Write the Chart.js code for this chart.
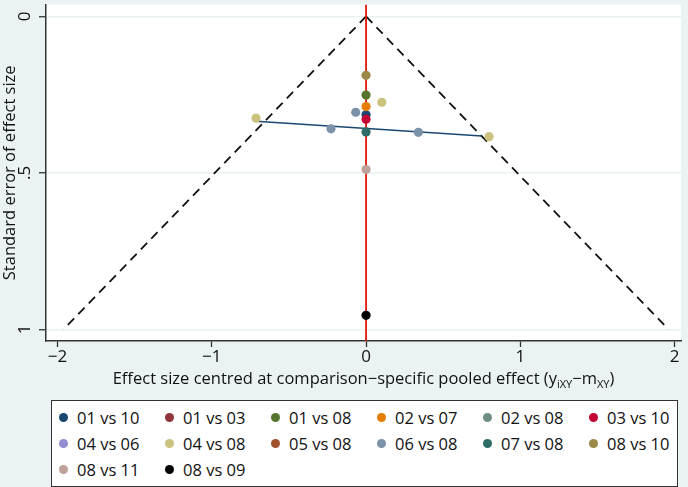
<!DOCTYPE html>
<html>
<head>
<meta charset="utf-8">
<script src="https://cdn.jsdelivr.net/npm/chart.js@4.4.1/dist/chart.umd.min.js"></script>
<style>
  body { margin: 0; background: #eaf2f3; font-family: "Open Sans", sans-serif; }
  #wrap { position: relative; width: 688px; height: 487px; background: #eaf2f3; overflow: hidden; }
  #chart { position: absolute; left: 0; top: 0; }
  #legend { position: absolute; left: 51px; top: 400px; width: 625px; height: 85px; background: #fff; border: 1px solid #333; }
  .item { position: absolute; height: 20px; display: flex; align-items: center; font-size: 16.5px; color: #111; white-space: nowrap; }
  .dot { width: 9px; height: 9px; border-radius: 50%; margin-right: 9.5px; }
</style>
</head>
<body>
<div id="wrap">
  <canvas id="chart" width="688" height="392"></canvas>
  <div id="legend"></div>
</div>
<script>
const comparisons = ['01 vs 10', '01 vs 03', '01 vs 08', '02 vs 07', '02 vs 08', '03 vs 10', '04 vs 06',
  '04 vs 08', '05 vs 08', '06 vs 08', '07 vs 08', '08 vs 10', '08 vs 11', '08 vs 09'];
const colors = ['#1a476f', '#90353b', '#55752f', '#e37e00', '#6e8e84', '#c10534', '#938dd2',
  '#cac27e', '#a0522d', '#7b92a8', '#2d6d66', '#9c8847', '#bfa19c', '#000000'];

// centred effect size and its standard error, per comparison (empty = not visible in the plot)
const effects = [[0], [], [0], [0], [], [0], [], [-0.713, 0.102, 0.797], [], [-0.227, -0.067, 0.339], [0], [0], [0], [0]];
const stdErrors = [[0.314], [], [0.251], [0.288], [], [0.328], [], [0.325, 0.274, 0.384], [], [0.359, 0.306, 0.370], [0.369], [0.188], [0.489], [0.955]];

// fitted line and pseudo 95% limits
const fitX = [-0.713, 0.75];
const fitSE = [0.335, 0.382];
const funnelSE = [0, 1];
const funnelLeft = [0, -1.96];
const funnelRight = [0, 1.96];

const xTicks = [-2, -1, 0, 1, 2];
const yTicks = [0, 0.5, 1];
const yTickLabels = ['0', '.5', '1'];
const xMin = -2.074, xMax = 2.041, yMin = -0.038, yMax = 1.037;

const pts = (xs, ys) => xs.map((x, i) => ({ x: x, y: ys[i] }));

const datasets = [];
comparisons.forEach((name, i) => {
  datasets.push({
    label: name,
    data: pts(effects[i], stdErrors[i]),
    backgroundColor: colors[i],
    borderWidth: 0,
    pointRadius: 4.6,
    showLine: false
  });
});
datasets.reverse(); // first comparison drawn last
const lineStyle = { pointRadius: 0, showLine: true, fill: false };
datasets.push({ label: 'fit', data: pts(fitX, fitSE), borderColor: '#1a476f', borderWidth: 1.6, ...lineStyle });
datasets.push({ label: 'zero', data: pts([0, 0], [yMin, yMax]), borderColor: '#e3170a', borderWidth: 1.8, ...lineStyle });
datasets.push({ label: 'left', data: pts(funnelLeft, funnelSE), borderColor: '#111', borderWidth: 1.8, borderDash: [9, 6], ...lineStyle });
datasets.push({ label: 'right', data: pts(funnelRight, funnelSE), borderColor: '#111', borderWidth: 1.8, borderDash: [9, 6], ...lineStyle });

const textPlugin = {
  id: 'texts',
  beforeDraw(chart) {
    const { ctx, chartArea: a } = chart;
    ctx.save();
    ctx.fillStyle = '#fff';
    ctx.fillRect(a.left, a.top, a.right - a.left, a.bottom - a.top);
    ctx.restore();
  },
  afterDraw(chart) {
    const { ctx, chartArea: a, scales } = chart;
    ctx.save();
    ctx.fillStyle = '#111';
    ctx.textAlign = 'center';
    ctx.textBaseline = 'middle';
    ctx.font = '17px "Open Sans"';
    yTicks.forEach((v, i) => {
      ctx.save();
      ctx.translate(25, scales.y.getPixelForValue(v));
      ctx.rotate(-Math.PI / 2);
      ctx.fillText(yTickLabels[i], 0, 0);
      ctx.restore();
    });
    ctx.font = '16.5px "Open Sans"';
    ctx.save();
    ctx.translate(10, (a.top + a.bottom) / 2);
    ctx.rotate(-Math.PI / 2);
    ctx.fillText('Standard error of effect size', 0, 0);
    ctx.restore();

    // x title with subscripts
    const parts = [
      ['Effect size centred at comparison\u2212specific pooled effect (y', 16.5, 0],
      ['iXY', 11, 4],
      ['\u2212m', 16.5, 0],
      ['XY', 11, 4],
      [')', 16.5, 0]
    ];
    let total = 0;
    parts.forEach(p => { ctx.font = p[1] + 'px "Open Sans"'; total += ctx.measureText(p[0]).width; });
    let x = (a.left + a.right) / 2 - total / 2;
    ctx.textAlign = 'left';
    ctx.textBaseline = 'alphabetic';
    parts.forEach(p => {
      ctx.font = p[1] + 'px "Open Sans"';
      ctx.fillText(p[0], x, 384 + p[2]);
      x += ctx.measureText(p[0]).width;
    });
    ctx.restore();
  }
};

new Chart(document.getElementById('chart'), {
  type: 'scatter',
  data: { datasets: datasets },
  options: {
    responsive: false,
    animation: false,
    devicePixelRatio: 1,
    layout: { padding: { left: 0, right: 7, top: 0, bottom: 0 } },
    plugins: { legend: { display: false }, tooltip: { enabled: false } },
    scales: {
      x: {
        type: 'linear',
        min: xMin,
        max: xMax,
        afterBuildTicks: s => { s.ticks = xTicks.map(v => ({ value: v })); },
        afterFit: s => { s.height = 51; },
        grid: { drawOnChartArea: false, tickLength: 6, tickColor: '#333', tickWidth: 1.3 },
        border: { color: '#333', width: 1.5 },
        ticks: {
          padding: 0,
          color: '#111',
          font: { family: 'Open Sans', size: 17 },
          callback: v => (v < 0 ? '\u2212' + Math.abs(v) : String(v))
        }
      },
      y: {
        type: 'linear',
        reverse: true,
        min: yMin,
        max: yMax,
        afterBuildTicks: s => { s.ticks = yTicks.map(v => ({ value: v })); },
        afterFit: s => { s.width = 46; },
        grid: { color: '#eaf2f3', lineWidth: 1.5, tickLength: 7, tickColor: '#333', tickWidth: 1.3 },
        border: { color: '#333', width: 1.5 },
        ticks: { display: false }
      }
    }
  },
  plugins: [textPlugin]
});

// legend laid out in Stata's 6-column grid
const legend = document.getElementById('legend');
comparisons.forEach((name, i) => {
  const col = i % 6, row = Math.floor(i / 6);
  const item = document.createElement('div');
  item.className = 'item';
  item.style.left = (11 - 4.5 + 106 * col) + 'px';
  item.style.top = (16 - 10 + 26 * row) + 'px';
  item.innerHTML = '<span class="dot" style="background:' + colors[i] + '"></span>' + name;
  legend.appendChild(item);
});
</script>
</body>
</html>
